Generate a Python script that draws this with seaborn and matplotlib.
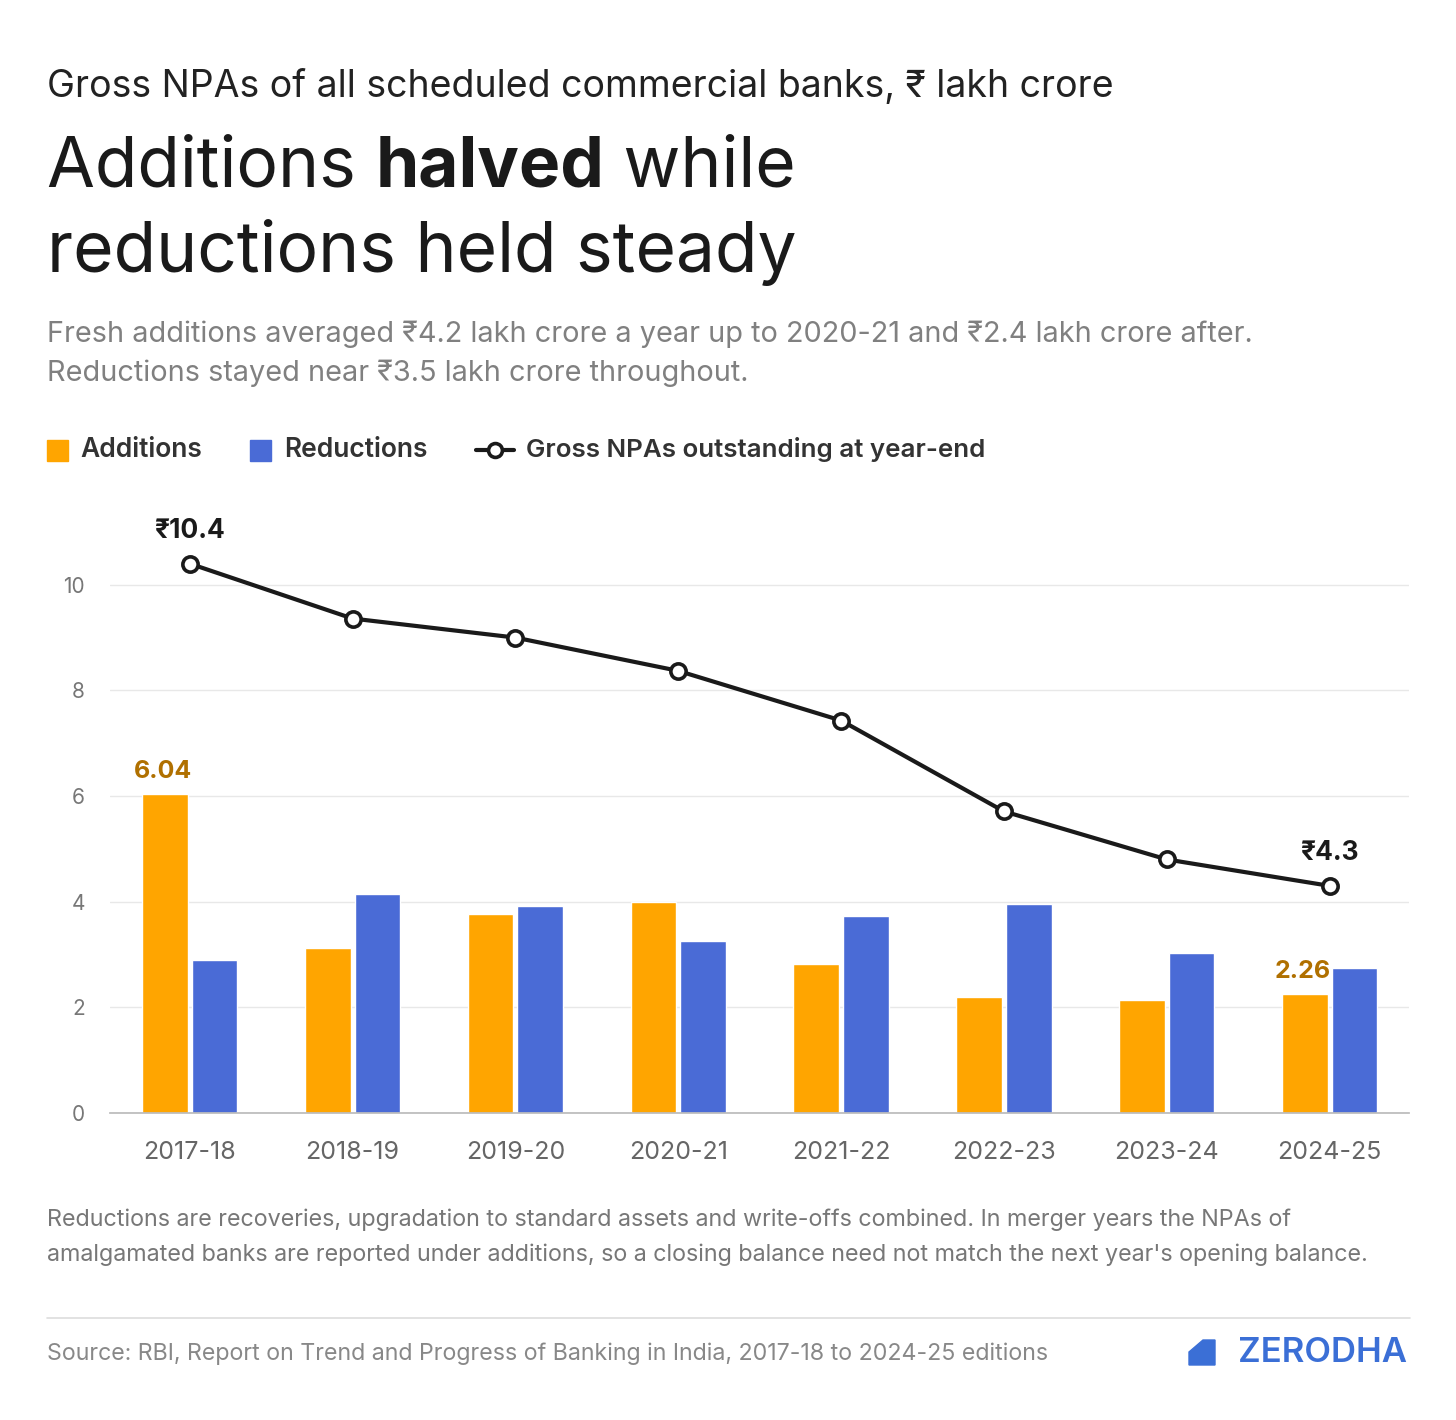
import matplotlib
matplotlib.use("Agg")
import matplotlib.pyplot as plt
import seaborn as sns
import pandas as pd
from matplotlib.lines import Line2D
from matplotlib.patches import Rectangle, Polygon

years = ["2017-18","2018-19","2019-20","2020-21","2021-22","2022-23","2023-24","2024-25"]
additions = [6.04, 3.13, 3.77, 3.99, 2.82, 2.20, 2.13, 2.26]
reductions = [2.89, 4.15, 3.92, 3.26, 3.73, 3.95, 3.03, 2.75]
gross = [10.4, 9.36, 9.0, 8.37, 7.43, 5.71, 4.80, 4.3]
yticks = [0, 2, 4, 6, 8, 10]

ORANGE = "#FFA500"
BLUE = "#4A6BD6"
sns.set_theme(style="white")
plt.rcParams['font.family'] = ['Inter', 'DejaVu Sans']

df = pd.DataFrame({"year": years*2, "value": additions+reductions,
                   "series": ["Additions"]*8 + ["Reductions"]*8})

fig = plt.figure(figsize=(14.56, 14.2), dpi=100)
ax = fig.add_axes([0.0755, 0.2162, 0.968-0.0755, 0.644-0.2162])
sns.barplot(data=df, x="year", y="value", hue="series", palette=[ORANGE, BLUE],
            width=0.61, gap=0.08, ax=ax, legend=False, saturation=1)
sns.lineplot(x=years, y=gross, ax=ax, color="#1a1a1a", lw=3, marker="o",
             markersize=11, markerfacecolor="white", markeredgecolor="#1a1a1a",
             markeredgewidth=2.6, zorder=5, sort=False)
ax.set_xlim(-0.49, 7.49)
ax.set_ylim(0, 11.5)
ax.set_yticks(yticks)
ax.set_xlabel(""); ax.set_ylabel("")
ax.grid(axis="y", color="#e8e8e8", lw=1)
ax.set_axisbelow(True)
for s in ["top", "right", "left"]:
    ax.spines[s].set_visible(False)
ax.spines["bottom"].set_color("#bbbbbb")
ax.tick_params(axis="y", length=0, labelsize=15, labelcolor="#777777", pad=18)
ax.tick_params(axis="x", length=0, labelsize=18, labelcolor="#666666", pad=20)
for l in ax.get_yticklabels():
    l.set_horizontalalignment("right")

ax.annotate(f"₹{gross[0]}", (0, gross[0]), xytext=(0, 14), textcoords="offset points",
            ha="center", va="bottom", fontsize=19, fontweight="bold", color="#1a1a1a")
ax.annotate(f"₹{gross[-1]}", (7, gross[-1]), xytext=(0, 14), textcoords="offset points",
            ha="center", va="bottom", fontsize=19, fontweight="bold", color="#1a1a1a")
ax.annotate(f"{additions[0]:.2f}", (-0.165, additions[0]), xytext=(0, 8), textcoords="offset points",
            ha="center", va="bottom", fontsize=18, fontweight="bold", color="#B07000")
ax.annotate(f"{additions[-1]:.2f}", (7-0.165, additions[-1]), xytext=(0, 8), textcoords="offset points",
            ha="center", va="bottom", fontsize=18, fontweight="bold", color="#B07000")

W, H = 1456, 1420
def fx(x): return x / W
def fy(y): return 1 - y / H

fig.text(fx(47), fy(87), "Gross NPAs of all scheduled commercial banks, ₹ lakh crore",
         fontsize=27, color="#222222", va="center")
t = fig.text(fx(47), fy(168), "Additions ", fontsize=50, color="#1a1a1a", va="center")
fig.canvas.draw()
r = fig.canvas.get_renderer()
bb = t.get_window_extent(r)
t2 = fig.text(bb.x1 / W, fy(168), "halved", fontsize=50, fontweight="bold", color="#1a1a1a", va="center")
bb2 = t2.get_window_extent(r)
fig.text(bb2.x1 / W, fy(168), " while", fontsize=50, color="#1a1a1a", va="center")
fig.text(fx(47), fy(252), "reductions held steady", fontsize=50, color="#1a1a1a", va="center")
fig.text(fx(47), fy(334), "Fresh additions averaged ₹4.2 lakh crore a year up to 2020-21 and ₹2.4 lakh crore after.",
         fontsize=20.8, color="#808080", va="center")
fig.text(fx(47), fy(373), "Reductions stayed near ₹3.5 lakh crore throughout.",
         fontsize=20.8, color="#808080", va="center")

# legend
fig.patches.append(Rectangle((fx(47), fy(461)), fx(21), 21/H, transform=fig.transFigure,
                             color=ORANGE, figure=fig))
fig.text(fx(80), fy(450), "Additions", fontsize=19, fontweight="semibold", color="#333333", va="center")
fig.patches.append(Rectangle((fx(250), fy(461)), fx(21), 21/H, transform=fig.transFigure,
                             color=BLUE, figure=fig))
fig.text(fx(284), fy(450), "Reductions", fontsize=19, fontweight="semibold", color="#333333", va="center")
fig.lines.append(Line2D([fx(476), fx(514)], [fy(450), fy(450)], transform=fig.transFigure,
                        color="#1a1a1a", lw=3, figure=fig))
fig.lines.append(Line2D([fx(495)], [fy(450)], transform=fig.transFigure, marker="o", markersize=10,
                        markerfacecolor="white", markeredgecolor="#1a1a1a", markeredgewidth=2.6, figure=fig))
fig.text(fx(526), fy(450), "Gross NPAs outstanding at year-end", fontsize=18.7, fontweight="semibold",
         color="#333333", va="center")

fig.text(fx(47), fy(1220), "Reductions are recoveries, upgradation to standard assets and write-offs combined. In merger years the NPAs of",
         fontsize=16.8, color="#777777", va="center")
fig.text(fx(47), fy(1255), "amalgamated banks are reported under additions, so a closing balance need not match the next year's opening balance.",
         fontsize=16.8, color="#777777", va="center")
fig.lines.append(Line2D([fx(47), fx(1410)], [fy(1318), fy(1318)], transform=fig.transFigure,
                        color="#dddddd", lw=1.2, figure=fig))
fig.text(fx(47), fy(1354), "Source: RBI, Report on Trend and Progress of Banking in India, 2017-18 to 2024-25 editions",
         fontsize=16.7, color="#888888", va="center")
fig.text(fx(1407), fy(1353), "ZERODHA", fontsize=25, fontweight="semibold", color="#3B6FD6",
         va="center", ha="right")
fig.patches.append(Polygon([(fx(1189), fy(1365)), (fx(1215), fy(1365)), (fx(1215), fy(1340)),
                            (fx(1203), fy(1340)), (fx(1189), fy(1352))], closed=True,
                           transform=fig.transFigure, color="#3B6FD6", figure=fig))

fig.savefig("out.png", dpi=100, facecolor="white")
